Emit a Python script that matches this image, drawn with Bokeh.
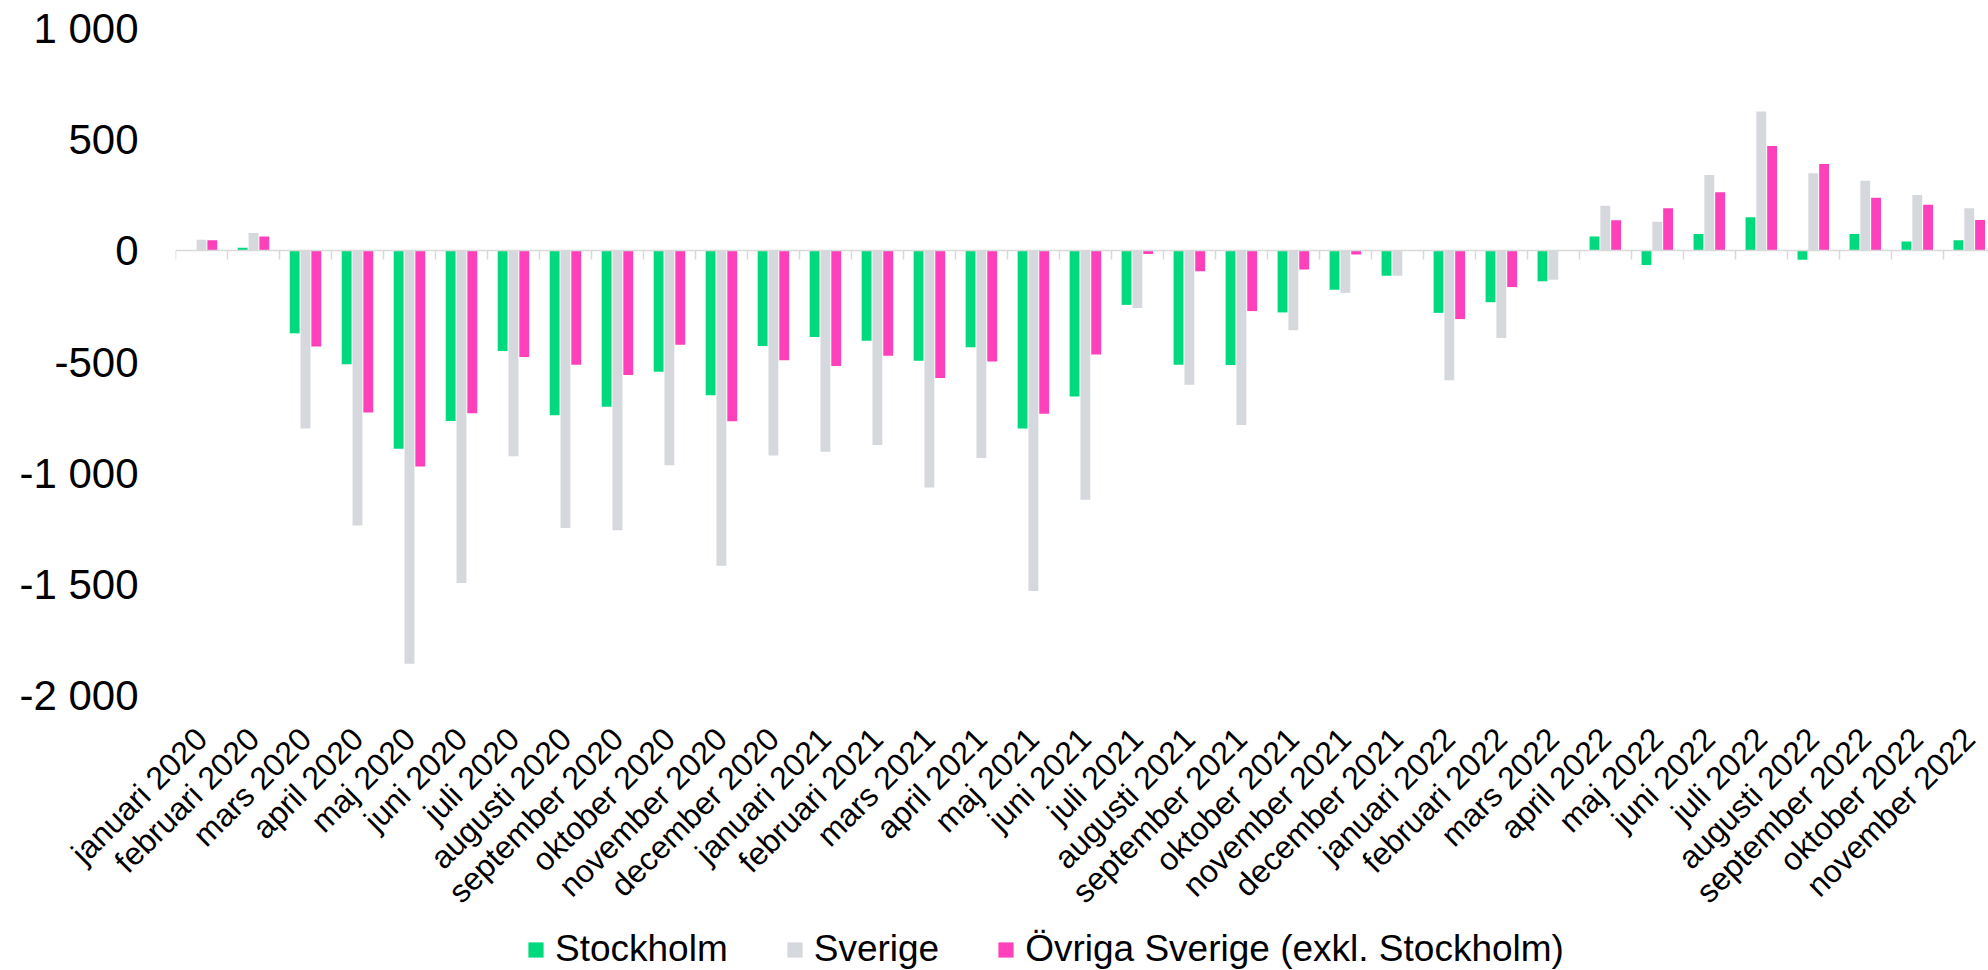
import math
from bokeh.plotting import figure
from bokeh.layouts import column
from bokeh.models import (FixedTicker, LinearAxis, Legend, LegendItem, Range1d,
                          ColumnDataSource)
from bokeh.transform import dodge
from bokeh.embed import file_html
from bokeh.resources import INLINE

months = ["januari 2020", "februari 2020", "mars 2020", "april 2020", "maj 2020",
          "juni 2020", "juli 2020", "augusti 2020", "september 2020", "oktober 2020",
          "november 2020", "december 2020",
          "januari 2021", "februari 2021", "mars 2021", "april 2021", "maj 2021",
          "juni 2021", "juli 2021", "augusti 2021", "september 2021", "oktober 2021",
          "november 2021", "december 2021",
          "januari 2022", "februari 2022", "mars 2022", "april 2022", "maj 2022",
          "juni 2022", "juli 2022", "augusti 2022", "september 2022", "oktober 2022",
          "november 2022"]

stockholm = [2, 14, -371, -510, -890, -765, -450, -739, -701, -544, -649, -428,
             -388, -404, -494, -434, -799, -655, -243, -512, -514, -277, -175, -112,
             -279, -231, -137, 64, -64, 76, 151, -40, 76, 42, 48]
sverige = [50, 80, -799, -1235, -1857, -1494, -924, -1247, -1257, -964, -1416, -920,
           -904, -873, -1064, -932, -1530, -1120, -257, -602, -783, -357, -189, -112,
           -582, -392, -130, 203, 131, 341, 627, 349, 315, 251, 191]
ovriga = [48, 64, -430, -727, -970, -731, -478, -512, -558, -422, -767, -492,
          -518, -472, -572, -498, -733, -466, -14, -92, -271, -84, -16, 2,
          -307, -163, 4, 137, 191, 263, 472, 390, 239, 207, 139]

series_names = ["Stockholm", "Sverige", "Övriga Sverige (exkl. Stockholm)"]
y_ticks = [-2000, -1500, -1000, -500, 0, 500, 1000]
y_tick_labels = ["-2 000", "-1 500", "-1 000", "-500", "0", "500", "1 000"]

GREEN = "#00D97E"
GRAY = "#D5D8DC"
PINK = "#FF40BB"
COLORS = [GREEN, GRAY, PINK]
COLUMNS = ["sthlm", "sve", "ovr"]
FONT = "Liberation Sans"

n = len(months)
xs = list(range(n))
src = ColumnDataSource(dict(x=xs, sthlm=stockholm, sve=sverige, ovr=ovriga))

p = figure(width=1988, height=926,
           x_range=Range1d(-0.5, n - 0.63), y_range=Range1d(-2000, 1000),
           output_backend="svg", toolbar_location=None,
           min_border_left=175, min_border_right=0, min_border_top=28,
           min_border_bottom=231, outline_line_color=None)
p.grid.visible = False

bw = 0.19
off = 0.208
for col, color, dx in zip(COLUMNS, COLORS, [-off, 0, off]):
    p.vbar(x=dodge("x", dx, range=p.x_range), top=col, width=bw, source=src,
           fill_color=color, line_color=None)

# month labels
xa = p.xaxis[0]
xa.ticker = FixedTicker(ticks=xs)
xa.major_label_overrides = {i: m for i, m in enumerate(months)}
xa.major_label_orientation = math.pi / 4
xa.axis_line_color = None
xa.major_tick_line_color = None
xa.minor_tick_line_color = None
xa.major_tick_out = 0
xa.minor_tick_out = 0
xa.major_label_standoff = 38
xa.major_label_text_font = FONT
xa.major_label_text_font_size = "32px"
xa.major_label_text_color = "#000000"

# zero line with boundary ticks pointing down
bounds = [i - 0.5 for i in range(n + 1)]
zero_axis = LinearAxis(fixed_location=0,
                       ticker=FixedTicker(ticks=[], minor_ticks=bounds),
                       axis_line_color="#D9D9D9", axis_line_width=1.5,
                       major_tick_line_color=None, major_tick_out=0, major_tick_in=0,
                       minor_tick_line_color="#D9D9D9", minor_tick_line_width=1.5,
                       minor_tick_in=9, minor_tick_out=0,
                       major_label_standoff=0,
                       major_label_text_font_size="0px")
p.add_layout(zero_axis, "above")

ya = p.yaxis[0]
ya.ticker = FixedTicker(ticks=y_ticks)
ya.major_label_overrides = dict(zip(y_ticks, y_tick_labels))
ya.axis_line_color = None
ya.major_tick_line_color = None
ya.minor_tick_line_color = None
ya.major_tick_out = 0
ya.minor_tick_out = 0
ya.major_label_standoff = 37
ya.major_label_text_font = FONT
ya.major_label_text_font_size = "42px"
ya.major_label_text_color = "#000000"

# legend strip below the chart (its bars lie outside its visible range)
pl = figure(width=1988, height=44, x_range=p.x_range, y_range=Range1d(10000, 10001),
            output_backend="svg", toolbar_location=None,
            x_axis_location=None, y_axis_location=None,
            min_border_left=0, min_border_right=0, min_border_top=0,
            min_border_bottom=0, outline_line_color=None)
pl.grid.visible = False
items = []
for name, col, color in zip(series_names, COLUMNS, COLORS):
    r = pl.vbar(x="x", top=col, width=bw, source=src, fill_color=color,
                line_color=None)
    items.append(LegendItem(label=name, renderers=[r]))

legend = Legend(items=items, orientation="horizontal", location=(351, 0),
                glyph_width=19, glyph_height=19, label_standoff=10, spacing=57,
                padding=0, margin=0, border_line_color=None,
                background_fill_alpha=0, label_height=19,
                label_text_font=FONT, label_text_font_size="37px",
                label_text_color="#000000")
pl.add_layout(legend, "center")

layout = column(p, pl, spacing=0)
open("out.html", "w").write(file_html(layout, INLINE))
